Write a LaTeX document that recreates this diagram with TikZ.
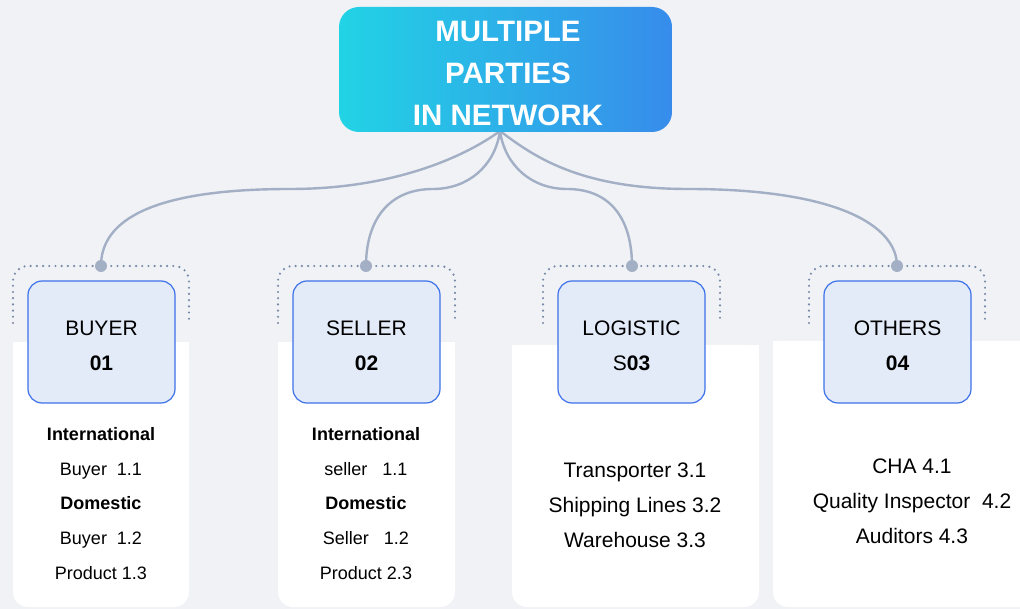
\documentclass[tikz,border=0pt]{standalone}
\usepackage{fontspec}
\setmainfont{Liberation Sans}
\definecolor{bgcol}{HTML}{F0F2F6}
\definecolor{linkcol}{HTML}{A2AFC4}
\definecolor{dotcol}{HTML}{7689A6}
\definecolor{boxfill}{HTML}{E3EAF8}
\definecolor{boxline}{HTML}{3D72EA}
\definecolor{gradA}{HTML}{22D3E5}
\definecolor{gradB}{HTML}{378CEB}
\tikzset{
  link/.style={draw=linkcol, line width=2.4pt},
  bracket/.style={draw=dotcol, line width=2.4pt, line cap=round,
    dash pattern=on 0pt off 6.2pt, rounded corners=15pt},
  knot/.style={fill=linkcol},
  card/.style={fill=white},
  catbox/.style={draw=boxline, fill=boxfill, line width=1.2pt, rounded corners=14pt,
    minimum width=147pt, minimum height=122pt},
  cattext/.style={align=center, font=\fontsize{21}{35}\selectfont},
  cardtext/.style={align=center, font=\fontsize{18}{34.8}\selectfont},
  cardtextL/.style={align=center, font=\fontsize{21}{34.8}\selectfont},
  hubbox/.style={rounded corners=20pt, left color=gradA, right color=gradB,
    minimum width=333pt, minimum height=125pt},
  hubtext/.style={align=center, text=white,
    font=\fontsize{29.5}{42}\selectfont\bfseries}
}
\begin{document}
\begin{tikzpicture}[x=1pt,y=-1pt]
\useasboundingbox (0,0) rectangle (1020,609);
\fill[bgcol] (0,0) rectangle (1020,609);

% white cards under each category
\foreach \l/\r/\t in {13/189/342, 278/455/342, 512/759/345, 773/1040/341}{
  \fill[card] (\l,\t) rectangle (\r,\t+60);
  \fill[card, rounded corners=15pt] (\l,\t) rectangle (\r,607);
}

% dotted brackets above the category boxes
\foreach \l/\r in {13/189, 278/455, 543/720, 809/985}{
  \draw[bracket] (\l,323) -- (\l,266) -- (\r,266) -- (\r,323);
}

% hub and anchor points
\coordinate (hub) at (500,131);
\coordinate (d1) at (101,266);
\coordinate (d2) at (366,266);
\coordinate (d3) at (632,266);
\coordinate (d4) at (897,266);
\coordinate (m1) at (290,189);
\coordinate (m2) at (433,189);
\coordinate (m3) at (567,189);
\coordinate (m4) at (688,189);

% connectors
\draw[link] (hub) .. controls +(-30,22) and +(110,0) .. (m1)
  .. controls +(-150,0) and +(0,-40) .. (d1);
\draw[link] (hub) .. controls +(-5,35) and +(35,0) .. (m2)
  .. controls +(-45,0) and +(0,-45) .. (d2);
\draw[link] (hub) .. controls +(5,35) and +(-35,0) .. (m3)
  .. controls +(45,0) and +(0,-45) .. (d3);
\draw[link] (hub) .. controls +(32,24) and +(-110,0) .. (m4)
  .. controls +(150,0) and +(0,-40) .. (d4);

\foreach \d in {d1,d2,d3,d4}{\fill[knot] (\d) circle (6pt);}

% category boxes
\node[catbox] (buyer) at (101.5,342) {};
\node[catbox] (seller) at (366.5,342) {};
\node[catbox] (logistic) at (631.5,342) {};
\node[catbox] (others) at (897.5,342) {};
\node[cattext, yshift=-4pt] (buyerlbl) at (buyer.center) {BUYER\\\textbf{01}};
\node[cattext, yshift=-4pt] (sellerlbl) at (seller.center) {SELLER\\\textbf{02}};
\node[cattext, yshift=-4pt] (logisticlbl) at (logistic.center) {LOGISTIC\\S\textbf{03}};
\node[cattext, yshift=-4pt] (otherslbl) at (others.center) {OTHERS\\\textbf{04}};

% central node
\node[hubbox] (top) at (505.5,69.5) {};
\node[hubtext] (toplbl) at (508,73.5) {MULTIPLE\\PARTIES\\IN NETWORK};

% card contents
\node[cardtext] (buyerlist) at (101,503.5)
  {\textbf{International}\\Buyer\ \ 1.1\\\textbf{Domestic}\\Buyer\ \ 1.2\\Product 1.3};
\node[cardtext] (sellerlist) at (366,503.5)
  {\textbf{International}\\seller\ \ \ 1.1\\\textbf{Domestic}\\Seller\ \ \ 1.2\\Product 2.3};
\node[cardtextL] (logisticlist) at (635,505)
  {Transporter 3.1\\Shipping Lines 3.2\\Warehouse 3.3};
\node[cardtextL] (otherslist) at (912,501)
  {CHA 4.1\\Quality Inspector\ \ 4.2\\Auditors 4.3};
\end{tikzpicture}
\end{document}
